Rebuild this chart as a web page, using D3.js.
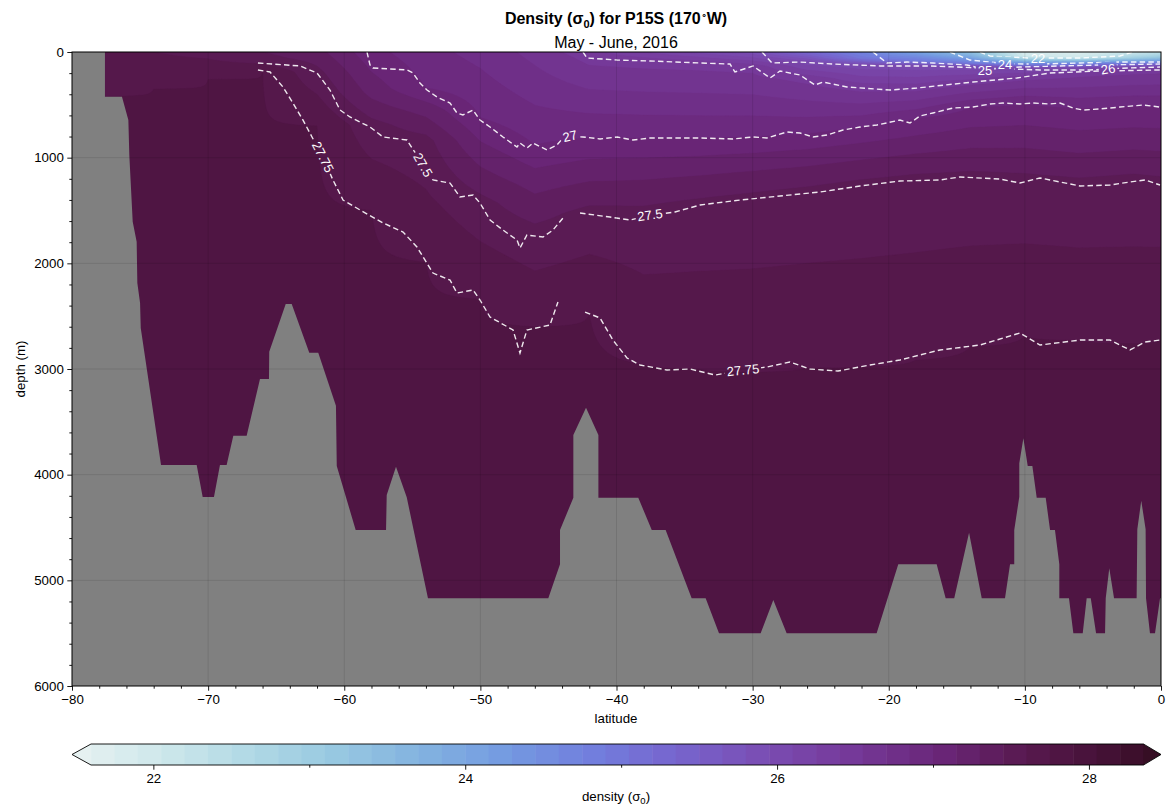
<!DOCTYPE html>
<html><head><meta charset="utf-8">
<script src="https://cdn.jsdelivr.net/npm/d3@7"></script>
<style>
body{margin:0;background:#fff;}
text{font-family:"Liberation Sans", Arial, Helvetica, sans-serif;fill:#000;}
</style></head><body>
<svg id="chart" width="1171" height="807"></svg>
<script>
const N = null;
// ---------- axes / ticks ----------
const latDomain = [-80, 0];
const depthDomain = [0, 6000];
const xTicks = [-80,-70,-60,-50,-40,-30,-20,-10,0];
const xMinor = d3.range(-78, 0, 2).filter(v => v % 10 !== 0);
const yTicks = [0,1000,2000,3000,4000,5000,6000];
const yMinor = d3.range(200, 6000, 200).filter(v => v % 1000 !== 0);
const cbTicks = [22,24,26,28];
const cbMinor = [23,25,27];

// ---------- colour field (isopycnal depths at coarse latitudes) ----------
const fillLats  = [-78,-74,-70,-66,-62,-58,-54,-50,-46,-42,-38,-34,-30,-26,-22,-18,-14,-10,-6,-2,0];
const surfSigma = [27.62,27.6,27.55,27.45,27.35,27.05,26.9,26.8,26.65,26.45,26.25,26.05,25.85,25.3,24.7,24.1,23.3,21.9,21.8,22.0,22.3];
const deepSigma = 27.85;
const fillLevels = [22,23,24,25,26,26.5,27,27.25,27.5,27.75];
const depth22   = [N,N,N,N,N,N,N,N,N,N,N,N,N,N,N,N,N,40,50,25,N];
const depth23   = [N,N,N,N,N,N,N,N,N,N,N,N,N,N,N,N,N,70,75,60,45];
const depth24   = [N,N,N,N,N,N,N,N,N,N,N,N,N,N,N,20,50,95,95,85,80];
const depth25   = [N,N,N,N,N,N,N,N,N,N,N,N,N,N,60,90,110,125,120,110,105];
const depth26   = [N,N,N,N,N,N,N,N,N,N,N,N,30,90,120,130,140,150,150,140,140];
const depth265  = [N,N,N,N,N,N,N,N,N,50,85,105,135,250,340,345,290,245,205,180,170];
const depth27   = [N,N,N,N,N,140,340,620,880,810,815,815,805,775,715,630,525,490,535,515,520];
const depth2725 = [N,N,N,N,N,380,560,1000,1250,1150,1130,1100,1060,1020,960,900,840,830,880,850,860];
const depth275  = [N,N,N,60,200,690,840,1430,1720,1530,1540,1460,1400,1340,1270,1220,1200,1230,1270,1230,1260];
const depth2775 = [420,350,260,190,700,1500,1990,2340,2600,2490,2960,3000,3030,2990,2980,2915,2790,2690,2730,2760,2730];
const fillDepths = [depth22,depth23,depth24,depth25,depth26,depth265,depth27,depth2725,depth275,depth2775];

// ---------- contour lines [lat, depth] ----------
const line2775 = [[-66.34,170],[-65.45,189],[-64.50,331],[-63.77,483],[-63.03,644],[-62.37,804],[-61.6,990],[-60.83,1211],[-60.09,1401],[-58.84,1495],[-57.15,1618],[-55.68,1704],[-54.66,1845],[-53.48,2092],[-52.23,2158],[-51.72,2281],[-50.54,2252],[-50.03,2347],[-49.29,2508],[-47.60,2631],[-47.09,2849],[-46.58,2631],[-44.89,2584],[-44.30,2366],N,
  [-42.31,2461],[-41.21,2517],[-40.26,2726],[-39.23,2896],[-38.27,2962],[-36.29,3010],[-34.60,3000],[-32.76,3057],[-30.7,3010],[-28.95,2981],[-27.26,2934],[-25.79,3000],[-23.73,3019],[-21.38,2962],[-19.18,2915],[-16.24,2820],[-13.30,2773],[-10.36,2659],[-8.89,2773],[-5.95,2726],[-3.75,2726],[-2.28,2820],[-1.18,2745],[-0.07,2726]];
const line275 = [[-66.34,104],[-63.25,132],[-62.00,199],[-61.05,360],[-60.31,549],[-59.58,615],[-58.11,710],[-57.15,804],[-55.39,833],[-55.02,909],[-54.2,1060],[-53.48,1211],[-52.23,1240],[-51.50,1372],[-50.54,1353],[-50.03,1429],[-49.29,1590],[-48.34,1685],[-47.31,1779],[-47.09,1855],[-46.58,1732],[-45.40,1751],[-44.67,1685],[-43.93,1571],N,
  [-42.68,1524],[-40.48,1562],[-39.01,1590],[-37.5,1545],[-35.70,1514],[-33.86,1448],[-30.93,1401],[-27.99,1363],[-25.05,1325],[-22.11,1268],[-19.18,1221],[-16.24,1211],[-14.77,1183],[-11.83,1202],[-10.36,1240],[-8.89,1192],[-5.95,1268],[-3.75,1259],[-2.28,1230],[-1.18,1211],[-0.07,1259]];
const line27 = [[-58.33,0],[-58.11,123],[-57.89,151],[-55.39,170],[-54.95,199],[-54.44,293],[-53.92,360],[-53.19,426],[-52.23,483],[-51.72,577],[-51.28,596],[-50.54,549],[-50.03,644],[-49.29,710],[-48.34,804],[-47.31,899],[-47.09,861],[-46.58,909],[-46.14,861],[-45.11,927],[-44.37,880],[-43.93,814],[-43.4,800],[-42.46,804],[-41.21,823],[-39.96,804],[-38.79,833],[-37.54,814],[-33.86,814],[-31.44,823],[-29.97,804],[-28.95,814],[-27.48,757],[-26.52,767],[-25.57,804],[-24.54,786],[-23.36,738],[-22.11,710],[-20.87,691],[-19.18,644],[-18.44,672],[-17.71,606],[-16.75,577],[-15.28,530],[-13.81,521],[-12.56,492],[-11.61,483],[-10.36,492],[-9.41,483],[-8.16,492],[-7.42,483],[-6.47,530],[-5.73,549],[-4.48,539],[-3.01,521],[-1.32,502],[-0.07,521]];
const line265 = [[-42.46,0],[-42.17,57],[-39.96,76],[-37.54,85],[-33.86,104],[-31.66,114],[-31.30,189],[-29.97,132],[-28.72,246],[-27.99,180],[-26.52,218],[-25.42,312],[-24.83,284],[-23.07,331],[-19.91,360],[-17.93,341],[-13.81,284],[-10.58,246],[-8.16,199],[-4.48,180],[-0.07,170]];
const line26 = [[-29.31,0],[-28.58,104],[-26.52,95],[-24.10,114],[-20.64,132],[-16.97,132],[-13.30,151],[-8.89,170],[-5.22,170],[-3.9,160],[-2.28,151],[-0.07,142]];
const line25 = [[-21.16,0],[-20.13,104],[-18.66,95],[-16.75,104],[-14.25,123],[-12.9,165],[-10.36,142],[-7.42,132],[-4.48,123],[-0.07,114]];
const line24 = [[-15.50,0],[-14.03,76],[-11.83,104],[-11.4,112],[-8.89,114],[-5.95,104],[-3.01,95],[-0.07,95]];
const line22 = [[-13.30,0],[-12.56,38],[-9.63,57],[-9.0,57],[-5.95,57],[-3.01,38],[-2.06,0]];
const contourLines = [line2775, line275, line27, line265, line26, line25, line24, line22];

// contour labels: text, lat, depth, angle
const labelText  = ["27.75","27.5","27","27.5","27.75","25","24","22","26"];
const labelLat   = [-61.56,-54.22,-43.42,-37.54,-30.71,-12.93,-11.46,-9.04,-3.89];
const labelDepth = [994,1069,795,1543,3010,170,114,57,161];
const labelAngle = [63,60,-14,-8,-6,0,0,0,-8];

// ---------- bathymetry [lat, depth] ----------
const bathymetry = [[-80,0],[-77.58,0],[-77.58,423],[-76.33,423],[-75.86,644],[-75.79,975],[-75.54,1606],[-75.25,1795],[-75.20,2186],[-75.00,2375],[-74.95,2612],[-73.46,3909],[-70.84,3909],[-70.40,4211],[-69.57,4211],[-69.13,3909],[-68.64,3909],[-68.15,3631],[-67.17,3631],[-66.19,3095],[-65.53,3095],[-65.51,2836],[-64.30,2385],[-63.86,2385],[-62.57,2846],[-61.91,2846],[-60.61,3347],[-60.55,3918],[-59.16,4524],[-56.93,4524],[-56.88,4193],[-56.20,3925],[-55.41,4214],[-53.85,5170],[-45.01,5170],[-44.15,4848],[-44.15,4524],[-43.17,4218],[-43.17,3625],[-42.24,3366],[-41.33,3625],[-41.33,4218],[-38.40,4218],[-37.41,4524],[-36.39,4524],[-34.48,5170],[-33.45,5170],[-32.47,5501],[-29.41,5501],[-28.48,5186],[-27.50,5501],[-20.89,5501],[-19.30,4848],[-16.48,4848],[-15.82,5170],[-15.19,5170],[-14.10,4549],[-13.17,5170],[-11.46,5170],[-11.09,4848],[-10.78,4848],[-10.78,4524],[-10.41,4208],[-10.41,3893],[-10.11,3656],[-9.79,3918],[-9.45,3918],[-9.13,4218],[-8.47,4218],[-8.15,4524],[-7.79,4524],[-7.47,4848],[-7.47,5170],[-6.76,5170],[-6.44,5501],[-5.75,5501],[-5.46,5170],[-5.16,5170],[-4.77,5501],[-4.11,5501],[-4.06,5170],[-3.80,4886],[-3.45,5170],[-1.79,5170],[-1.74,4517],[-1.45,4246],[-1.13,4517],[-1.10,5170],[-0.81,5501],[-0.44,5501],[-0.07,5170],[0,5170],[0,6000],[-80,6000]];

// ---------- colour map (cmocean "dense"-like) ----------
const cmapStops  = [0,0.08,0.16,0.24,0.32,0.40,0.48,0.56,0.64,0.72,0.80,0.88,0.94,1];
const cmapColors = ["#e6f1f1","#cde7eb","#b0d9e5","#97c8e1","#82b2e0","#7399e1","#727ddd","#7763cc","#7a4cb2","#753898","#6a2678","#58194f","#48123a","#360e24"];
const cmap = d3.scaleLinear().domain(cmapStops).range(cmapColors).interpolate(d3.interpolateRgb).clamp(true);
const levelStart = 21.6, levelStep = 0.15, nBands = 45;
const levels = d3.range(nBands + 1).map(k => Math.round((levelStart + levelStep*k)*1000)/1000);
const bandColor = r => cmap(r / (nBands + 1)); // r = 0 (under) .. nBands+1 (over)

// ---------- layout ----------
const svg = d3.select("#chart");
const M = {left:72, right:1161, top:52, bottom:686};
const x = d3.scaleLinear().domain(latDomain).range([M.left, M.right]);
const y = d3.scaleLinear().domain(depthDomain).range([M.top, M.bottom]);

svg.append("defs").append("clipPath").attr("id","plotclip")
  .append("rect").attr("x",M.left).attr("y",M.top).attr("width",M.right-M.left).attr("height",M.bottom-M.top);

// ---------- build field ----------
function profile(c){
  const pts = [[0, surfSigma[c]]];
  fillLevels.forEach((L,k) => { const d = fillDepths[k][c]; if (d !== null && L > surfSigma[c]) pts.push([d, L]); });
  pts.sort((a,b) => a[0]-b[0]);
  pts.push([6000, deepSigma]);
  return pts;
}
function interp(pts, z){
  for (let i = 0; i < pts.length-1; i++){
    if (z <= pts[i+1][0]) { const t = (z - pts[i][0])/(pts[i+1][0]-pts[i][0]); return pts[i][1] + t*(pts[i+1][1]-pts[i][1]); }
  }
  return pts[pts.length-1][1];
}
const dLat = 0.25, dZ = 10, lat0 = fillLats[0];
const nx = Math.round((fillLats[fillLats.length-1]-lat0)/dLat) + 1;
const ny = Math.round(6000/dZ) + 1;
const cols = fillLats.map((_,c) => { const p = profile(c); const a = new Float64Array(ny); for (let j=0;j<ny;j++) a[j] = interp(p, j*dZ); return a; });
const values = new Float64Array(nx*ny);
for (let i=0;i<nx;i++){
  const lat = lat0 + i*dLat;
  let c = d3.bisectRight(fillLats, lat) - 1; c = Math.max(0, Math.min(fillLats.length-2, c));
  const t = (lat - fillLats[c])/(fillLats[c+1]-fillLats[c]);
  for (let j=0;j<ny;j++) values[j*nx+i] = cols[c][j]*(1-t) + cols[c+1][j]*t;
}
const contours = d3.contours().size([nx, ny]).thresholds(levels)(values);
const proj = d3.geoTransform({point(gx, gy){ this.stream.point(x(lat0 + (gx-0.5)*dLat), y((gy-0.5)*dZ)); }});
const gpath = d3.geoPath(proj);

const plot = svg.append("g").attr("clip-path","url(#plotclip)");
plot.append("rect").attr("x",M.left).attr("y",M.top).attr("width",M.right-M.left).attr("height",M.bottom-M.top).attr("fill",bandColor(0));
plot.append("g").selectAll("path").data(contours).join("path")
  .attr("d", gpath).attr("fill", (d,k) => bandColor(k+1)).attr("stroke", (d,k) => bandColor(k+1)).attr("stroke-width",0.3);

// ---------- contour lines with label gaps ----------
const mask = svg.select("defs").append("mask").attr("id","lblmask").attr("maskUnits","userSpaceOnUse")
  .attr("x",0).attr("y",0).attr("width",1171).attr("height",807);
mask.append("rect").attr("x",0).attr("y",0).attr("width",1171).attr("height",807).attr("fill","#fff");
const lineGen = d3.line().defined(d => d !== null).x(d => x(d[0])).y(d => y(d[1]));
plot.append("g").attr("mask","url(#lblmask)").selectAll("path").data(contourLines).join("path")
  .attr("d", lineGen).attr("fill","none").attr("stroke","#fff").attr("stroke-opacity",0.9)
  .attr("stroke-width",1.4).attr("stroke-dasharray","5.5,3.2");
const lblG = plot.append("g");
labelText.forEach((t,i) => {
  const tr = `translate(${x(labelLat[i])},${y(labelDepth[i])}) rotate(${labelAngle[i]})`;
  const tx = lblG.append("text").attr("transform", tr).attr("text-anchor","middle").attr("dy","0.35em")
    .style("font-size","13px").style("fill","#fff").text(t);
  const bb = tx.node().getBBox();
  mask.append("rect").attr("transform", tr).attr("x", bb.x-2).attr("y", bb.y).attr("width", bb.width+4).attr("height", bb.height).attr("fill","#000");
});

// ---------- bathymetry ----------
plot.append("path").attr("d", d3.line().x(d => x(d[0])).y(d => y(d[1]))(bathymetry) + "Z").attr("fill","#808080");

// ---------- grid ----------
const grid = svg.append("g").attr("stroke","#000").attr("stroke-opacity",0.1).attr("stroke-width",1);
xTicks.slice(1,-1).forEach(v => grid.append("line").attr("x1",x(v)).attr("x2",x(v)).attr("y1",M.top).attr("y2",M.bottom));
yTicks.slice(1,-1).forEach(v => grid.append("line").attr("y1",y(v)).attr("y2",y(v)).attr("x1",M.left).attr("x2",M.right));

// ---------- axes ----------
const fmt = d => d < 0 ? "\u2212" + Math.abs(d) : String(d);
svg.append("g").attr("transform",`translate(0,${M.bottom})`)
  .call(d3.axisBottom(x).tickValues(xTicks).tickSize(4.7).tickPadding(3.5).tickFormat(fmt));
svg.append("g").attr("transform",`translate(0,${M.bottom})`)
  .call(d3.axisBottom(x).tickValues(xMinor).tickSize(2.7).tickFormat(""));
svg.append("g").attr("transform",`translate(${M.left},0)`)
  .call(d3.axisLeft(y).tickValues(yTicks).tickSize(4.7).tickPadding(3.5).tickFormat(d => String(d)));
svg.append("g").attr("transform",`translate(${M.left},0)`)
  .call(d3.axisLeft(y).tickValues(yMinor).tickSize(2.7).tickFormat(""));
svg.selectAll(".domain").remove();
svg.append("rect").attr("x",M.left).attr("y",M.top).attr("width",M.right-M.left).attr("height",M.bottom-M.top)
  .attr("fill","none").attr("stroke","#000").attr("stroke-width",1);

// ---------- titles ----------
const title = svg.append("text").attr("x",616).attr("y",23.5).attr("text-anchor","middle").style("font-size","16px").style("font-weight","bold");
title.append("tspan").text("Density (\u03c3");
title.append("tspan").attr("dy",4).style("font-size","11px").text("0");
title.append("tspan").attr("dy",-4).text(") for P15S (170");
title.append("tspan").attr("dy",-6).style("font-size","10px").style("font-weight","normal").text("\u2218");
title.append("tspan").attr("dy",6).text("W)");
svg.append("text").attr("x",616).attr("y",47.5).attr("text-anchor","middle").style("font-size","16px").text("May - June, 2016");
svg.append("text").attr("x",616).attr("y",723).attr("text-anchor","middle").style("font-size","13.3px").text("latitude");
svg.append("text").attr("transform","translate(25,369) rotate(-90)").attr("text-anchor","middle").style("font-size","13.3px").text("depth (m)");

// ---------- colour bar ----------
const cb = {x0:91, x1:1143.5, y0:744, y1:765, tipL:72, tipR:1161};
const cx = d3.scaleLinear().domain([levels[0], levels[nBands]]).range([cb.x0, cb.x1]);
const cbg = svg.append("g");
cbg.selectAll("rect").data(d3.range(nBands)).join("rect")
  .attr("x", k => cx(levels[k])).attr("width", k => cx(levels[k+1]) - cx(levels[k]) + 0.5)
  .attr("y", cb.y0).attr("height", cb.y1 - cb.y0).attr("fill", k => bandColor(k+1));
const ym = (cb.y0 + cb.y1)/2;
cbg.append("path").attr("d",`M${cb.x0+0.3},${cb.y0}L${cb.tipL},${ym}L${cb.x0+0.3},${cb.y1}Z`).attr("fill",bandColor(0));
cbg.append("path").attr("d",`M${cb.x1-0.3},${cb.y0}L${cb.tipR},${ym}L${cb.x1-0.3},${cb.y1}Z`).attr("fill",bandColor(nBands+1));
cbg.append("path").attr("d",`M${cb.tipL},${ym}L${cb.x0},${cb.y0}L${cb.x1},${cb.y0}L${cb.tipR},${ym}L${cb.x1},${cb.y1}L${cb.x0},${cb.y1}Z`)
  .attr("fill","none").attr("stroke","#000").attr("stroke-width",0.9);
svg.append("g").attr("transform",`translate(0,${cb.y1})`)
  .call(d3.axisBottom(cx).tickValues(cbTicks).tickSize(4.7).tickPadding(3.5).tickFormat(d => String(d)))
  .call(g => g.select(".domain").remove());
svg.append("g").attr("transform",`translate(0,${cb.y1})`)
  .call(d3.axisBottom(cx).tickValues(cbMinor).tickSize(2.7).tickFormat(""))
  .call(g => g.select(".domain").remove());
svg.selectAll(".tick line").attr("stroke","#000").attr("stroke-width",0.9);
svg.selectAll(".tick text").style("font-size","13.3px").attr("fill","#000");
const cbl = svg.append("text").attr("x",616).attr("y",801).attr("text-anchor","middle").style("font-size","13.3px");
cbl.append("tspan").text("density (\u03c3");
cbl.append("tspan").attr("dy",2.5).style("font-size","9.5px").text("0");
cbl.append("tspan").attr("dy",-2.5).text(")");
</script>
</body></html>
